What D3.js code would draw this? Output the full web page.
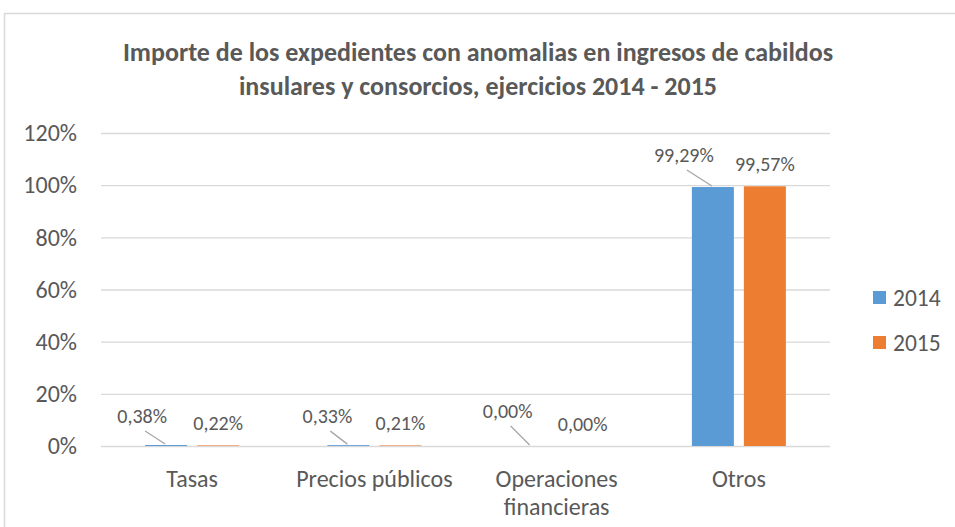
<!DOCTYPE html>
<html>
<head>
<meta charset="utf-8">
<script src="https://cdn.jsdelivr.net/npm/d3@7"></script>
<style>
  body { margin: 0; background: #fff; }
  svg text { font-family: Calibri, Carlito, "Open Sans", sans-serif; fill: #595959; }
</style>
</head>
<body>
<div id="chart"></div>
<script>
// data
const categories = ["Tasas", "Precios públicos", "Operaciones financieras", "Otros"];
const categoryLines = [["Tasas"], ["Precios públicos"], ["Operaciones", "financieras"], ["Otros"]];
const series = ["2014", "2015"];
const values2014 = [0.0038, 0.0033, 0.0000, 0.9929];
const values2015 = [0.0022, 0.0021, 0.0000, 0.9957];
const labels2014 = ["0,38%", "0,33%", "0,00%", "99,29%"];
const labels2015 = ["0,22%", "0,21%", "0,00%", "99,57%"];
const yTicks = [0, 0.2, 0.4, 0.6, 0.8, 1.0, 1.2];
const titleLines = ["Importe de los expedientes con anomalias en ingresos de cabildos",
                    "insulares y consorcios, ejercicios 2014 - 2015"];

const colors = { "2014": "#5b9bd5", "2015": "#ed7d31" };
// manual nudges of the 2014 labels (dragged in the original)
const nudge2014 = [[-24, -29], [-21, -29], [-23, -35], [-29, -32]];

const W = 955, H = 527;
const plot = { left: 101, right: 830, top: 133, bottom: 446 };

const svg = d3.select("#chart")
  .append("svg")
  .attr("width", W)
  .attr("height", H);

// chart frame
svg.append("rect")
  .attr("x", 4.5).attr("y", 13.5)
  .attr("width", W + 10).attr("height", H + 10)
  .attr("fill", "none")
  .attr("stroke", "#d9d9d9")
  .attr("stroke-width", 1.5);

// title
svg.append("text")
  .attr("x", 478)
  .attr("text-anchor", "middle")
  .style("font-size", "26px")
  .style("font-weight", "bold")
  .selectAll("tspan")
  .data(titleLines)
  .join("tspan")
  .attr("x", 478)
  .attr("y", (d, i) => 61 + i * 34)
  .text(d => d);

const x0 = d3.scaleBand()
  .domain(categories)
  .range([plot.left, plot.right]);

const x1 = d3.scaleBand()
  .domain(series)
  .range([x0.bandwidth() / 2 - 47, x0.bandwidth() / 2 + 47])
  .paddingInner(0.1923);

const y = d3.scaleLinear()
  .domain([0, 1.2])
  .range([plot.bottom, plot.top]);

// gridlines + y labels
const yAxis = d3.axisLeft(y)
  .tickValues(yTicks)
  .tickSize(-(plot.right - plot.left))
  .tickPadding(24)
  .tickFormat(d => Math.round(d * 100) + "%");

const gy = svg.append("g")
  .attr("transform", `translate(${plot.left},0)`)
  .call(yAxis);
gy.select(".domain").remove();
gy.selectAll(".tick line").attr("stroke", "#d9d9d9").attr("stroke-width", 1.3);
gy.selectAll(".tick text")
  .attr("fill", "#595959")
  .style("font-size", "24px");

// bars
const rows = categories.map((c, i) => ({
  cat: c,
  vals: [
    { s: "2014", v: values2014[i], label: labels2014[i], nudge: nudge2014[i] },
    { s: "2015", v: values2015[i], label: labels2015[i], nudge: [0, -22] }
  ]
}));

const groups = svg.selectAll(".grp")
  .data(rows)
  .join("g")
  .attr("class", "grp")
  .attr("transform", d => `translate(${x0(d.cat)},0)`);

groups.selectAll("rect")
  .data(d => d.vals)
  .join("rect")
  .attr("x", d => x1(d.s))
  .attr("width", x1.bandwidth())
  .attr("y", d => y(d.v))
  .attr("height", d => y(0) - y(d.v))
  .attr("fill", d => colors[d.s]);

// leader lines for the 2014 labels
groups.selectAll(".leader")
  .data(d => d.vals.filter(v => v.s === "2014"))
  .join("line")
  .attr("class", "leader")
  .attr("x1", d => x1(d.s) + x1.bandwidth() / 2 + d.nudge[0] + 3)
  .attr("y1", d => y(d.v) + d.nudge[1] + 15)
  .attr("x2", d => x1(d.s) + x1.bandwidth() / 2 - 1)
  .attr("y2", d => y(d.v) - 1)
  .attr("stroke", "#a6a6a6")
  .attr("stroke-width", 1.3);

// value labels
groups.selectAll(".val")
  .data(d => d.vals)
  .join("text")
  .attr("class", "val")
  .attr("x", d => x1(d.s) + x1.bandwidth() / 2 + d.nudge[0])
  .attr("y", d => y(d.v) + d.nudge[1])
  .attr("dy", "0.35em")
  .attr("text-anchor", "middle")
  .style("font-size", "20px")
  .text(d => d.label);

// category labels
svg.selectAll(".cat")
  .data(categories)
  .join("text")
  .attr("class", "cat")
  .attr("text-anchor", "middle")
  .style("font-size", "24px")
  .each(function (c, i) {
    d3.select(this).selectAll("tspan")
      .data(categoryLines[i])
      .join("tspan")
      .attr("x", x0(c) + x0.bandwidth() / 2)
      .attr("y", (d, j) => 487 + j * 28)
      .text(d => d);
  });

// legend
const legend = svg.selectAll(".leg")
  .data(series)
  .join("g")
  .attr("class", "leg")
  .attr("transform", (d, i) => `translate(873,${291 + i * 45})`);

legend.append("rect")
  .attr("width", 13).attr("height", 13)
  .attr("fill", d => colors[d]);

legend.append("text")
  .attr("x", 20)
  .attr("y", 6.5)
  .attr("dy", "0.35em")
  .style("font-size", "23.5px")
  .text(d => d);
</script>
</body>
</html>
